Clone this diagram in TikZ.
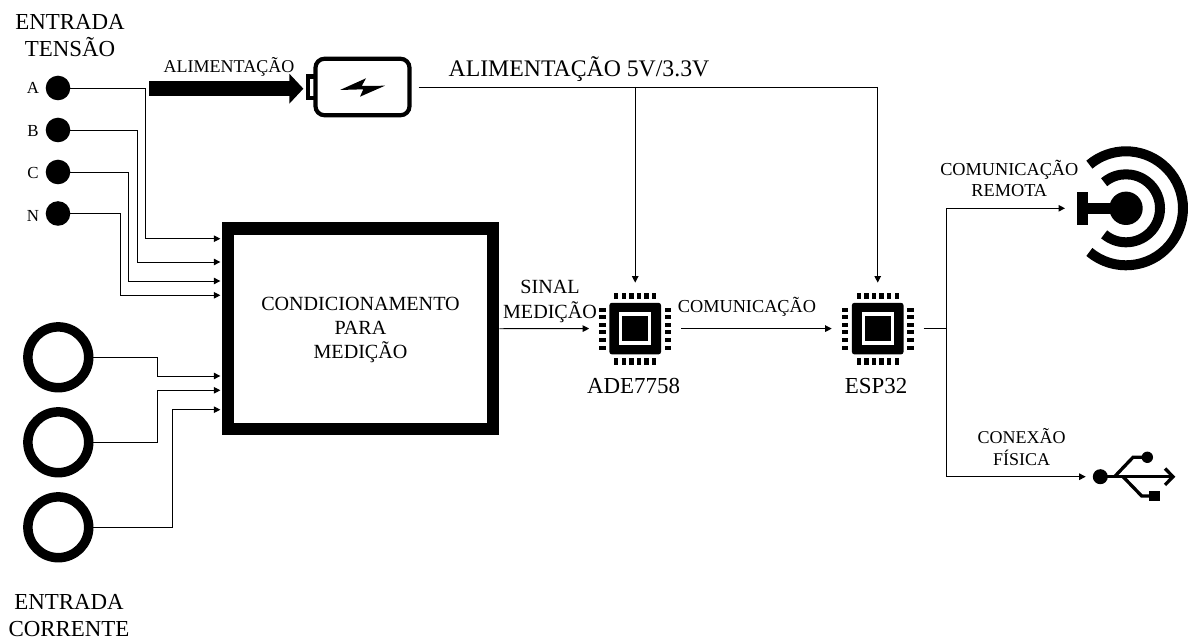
\documentclass[tikz,border=0pt]{standalone}
\usepackage{fontspec}
\setmainfont{Liberation Serif}
\usetikzlibrary{arrows.meta,positioning}

\def\px{0.25mm}

% chip icon: name, x, y
\newcommand{\chipicon}[3]{
  \node[hit,minimum size=92*\px] (#1) at (#2,#3) {};
  \begin{scope}[shift={(#2,#3)}]
    \fill[black,rounded corners=2.5*\px] (-25.8,-25.8) rectangle (25.8,25.8);
    \fill[white] (-16.2,-16.2) rectangle (16.2,16.2);
    \fill[black] (-12.8,-12.8) rectangle (12.8,12.8);
    \foreach \k in {-2.5,-1.5,...,2.5} {
      \fill[black] (\k*7.6-2.2,-35.8) rectangle (\k*7.6+2.2,-29.3);
      \fill[black] (\k*7.6-2.2,29.5) rectangle (\k*7.6+2.2,36.2);
      \fill[black] (-35.9,\k*7.6-2) rectangle (-29.5,\k*7.6+2);
      \fill[black] (29.5,\k*7.6-2) rectangle (35.9,\k*7.6+2);
    }
  \end{scope}
}

\begin{document}
\begin{tikzpicture}[x=\px,y=-\px,font=\rmfamily,>={Triangle[length=4.6pt,width=4.6pt]},
  lbl/.style={font=\fontsize{16.3}{19}\selectfont,align=center,inner sep=0pt},
  lblsmall/.style={font=\fontsize{12.8}{15.6}\selectfont,align=center,inner sep=0pt},
  lblmid/.style={font=\fontsize{14.3}{17.4}\selectfont,align=center,inner sep=0pt},
  wire/.style={line width=0.7pt,black},
  wirearrow/.style={wire,->,shorten >=1pt},
  hit/.style={inner sep=0pt,outer sep=0pt},
  dot/.style={circle,fill=black,inner sep=0pt,outer sep=0pt,minimum size=24.6*\px},
  ring/.style={circle,draw=black,line width=9.5*\px,inner sep=0pt,minimum size=60.8*\px},
  icon/.style={line width=3.3*\px,black},
]

\useasboundingbox (0,0) rectangle (1188,640);

% ------------------------------------------------------------------
% Voltage and current inputs
% ------------------------------------------------------------------
\node[lbl,anchor=base] (txtTensao) at (70,56.7) {ENTRADA\\[0.2pt]TENSÃO};

\foreach \n/\y/\t in {A/88/88,B/130/130.7,C/172/173.3,N/213.5/216} {
  \node[dot] (in\n) at (58,\y) {};
  \node[lblsmall,font=\fontsize{12}{14}\selectfont] (txt\n) at (33,\t) {\n};
}

\foreach \n/\y in {1/357.3,2/442.3,3/527.3} {
  \node[ring] (coil\n) at (58.3,\y) {};
}

\node[lbl,anchor=base] (txtCorrente) at (69,636) {ENTRADA\\[0.2pt]CORRENTE};

% ------------------------------------------------------------------
% Conditioning block
% ------------------------------------------------------------------
\node[draw=black,line width=12.5*\px,minimum width=265*\px,minimum height=200.5*\px]
  (block) at (360.5,328.75) {};
\node[lblmid,anchor=base] (txtBlock) at (360.5,359) {CONDICIONAMENTO\\PARA\\MEDIÇÃO};

\draw[wirearrow] (inA) -- (145.7,88) |- (block.west |- 0,238.7);
\draw[wirearrow] (inB) -- (137.7,130) |- (block.west |- 0,262);
\draw[wirearrow] (inC) -- (128,172) |- (block.west |- 0,281);
\draw[wirearrow] (inN) -- (120,213.5) |- (block.west |- 0,295.3);

\draw[wirearrow] (coil1) -- (157,357.3) |- (block.west |- 0,376);
\draw[wirearrow] (coil2) -- (157,442.3) |- (block.west |- 0,390.3);
\draw[wirearrow] (coil3) -- (172.3,527.3) |- (block.west |- 0,409.7);

% ------------------------------------------------------------------
% Battery
% ------------------------------------------------------------------
\node[draw=black,line width=4.2*\px,rounded corners=9*\px,inner sep=0pt,
  minimum width=94*\px,minimum height=56.5*\px] (batt) at (362.5,87) {};
\draw[line width=4.2*\px,black] (314,76.5) -- (308.2,76.5) -- (308.2,97.8) -- (314,97.8);
\fill[black] (340,90) -- (366,78.3) -- (361.7,86) -- (385,85.7)
  -- (360,96.7) -- (363.3,89.3) -- cycle;

\coordinate (pwrStart) at (149,88.7);
\draw[line width=14.7*\px,black,-{Triangle[length=14*\px,width=29*\px]}]
  (pwrStart) -- (batt.west |- pwrStart) [shorten >=10*\px];
\node[lblsmall,anchor=base] (txtAlim) at (229,73) {ALIMENTAÇÃO};
\node[lbl,font=\fontsize{16.9}{19}\selectfont,anchor=base] (txtFonte) at (579,77) {ALIMENTAÇÃO 5V/3.3V};

% ------------------------------------------------------------------
% Chips
% ------------------------------------------------------------------
\chipicon{ade}{635.2}{328.6}
\chipicon{esp}{877.7}{328.6}

\node[lbl,anchor=base] (txtAde) at (633.5,394) {ADE7758};
\node[lbl,anchor=base] (txtEsp) at (876,394) {ESP32};

\draw[wire,shorten <=7*\px] (batt.east) -- (batt.east -| esp.north);
\draw[wirearrow,shorten >=0pt] (batt.east -| ade.north) -- (ade.north);
\draw[wirearrow,shorten >=0pt] (batt.east -| esp.north) -- (esp.north);

\draw[wirearrow,shorten >=0pt] (block.east) -- (ade.west);
\draw[wirearrow,shorten >=0pt] (ade.east) -- (esp.west);

\node[lblmid,anchor=base] (txtSinal) at (550,318.3) {SINAL\\MEDIÇÃO};
\node[lblsmall,font=\fontsize{13}{15}\selectfont,anchor=base] (txtCom) at (747,312.7) {COMUNICAÇÃO};

% ------------------------------------------------------------------
% Outputs
% ------------------------------------------------------------------
\node[hit,circle,minimum size=122*\px] (radio) at (1126,208.3) {};
\fill[black] (radio) circle (16.7);
\fill[black] (1076.7,191.7) rectangle (1087.7,225);
\fill[black] (1087.7,202.8) rectangle (1120,213.8);
\draw[black,line width=10*\px] (radio) ++(130:34) arc (130:-130:34);
\draw[black,line width=10*\px] (radio) ++(130:57) arc (130:-130:57);

\node[hit,minimum width=87.6*\px,minimum height=50*\px] (usb) at (1129.5,476.7) {};
\fill[black] (1100.3,476.7) circle (7.5);
\draw[icon] (1100.3,476.7) -- (1172,476.7);
\draw[icon] (1165,468.5) -- (1173,476.7) -- (1165,484.9);
\draw[icon] (1114.5,476.7) -- (1133,457.3) -- (1147,457.3);
\draw[icon] (1123,476.7) -- (1141.7,496) -- (1150,496);
\fill[black] (1147.3,457.3) circle (5.7);
\fill[black] (1149.3,490.7) rectangle (1160,501);

\coordinate (espOut) at (946,328.6);
\draw[wire] (esp.east) -- (espOut);
\draw[wirearrow,shorten >=0pt] (espOut) |- (radio.west);
\draw[wirearrow,shorten >=0pt] (espOut) |- (usb.west);

\node[lblsmall,font=\fontsize{13}{15.4}\selectfont,anchor=base] (txtRemota) at (1009.3,196.7) {COMUNICAÇÃO\\REMOTA};
\node[lblsmall,anchor=base] (txtFisica) at (1021.7,465.7) {CONEXÃO\\FÍSICA};

\end{tikzpicture}
\end{document}
